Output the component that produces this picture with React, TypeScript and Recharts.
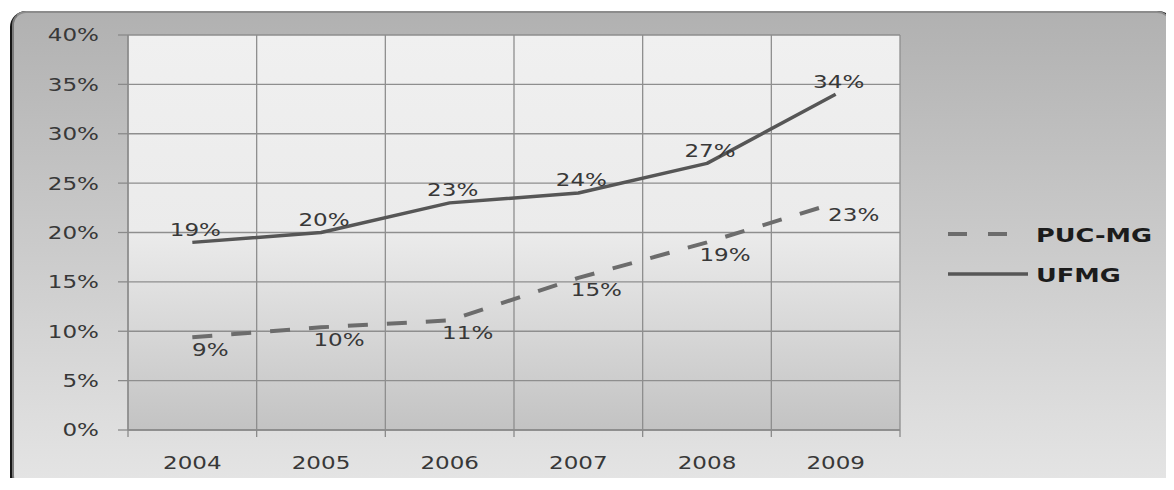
import React from 'react';
import { LineChart, Line, XAxis, YAxis, CartesianGrid, Legend, LabelList } from 'recharts';

// Share of students per year, by university (%)
const years = ['2004', '2005', '2006', '2007', '2008', '2009'];
const pucMgValues = [9.4, 10.4, 11.1, 15.4, 19.0, 23.0];
const ufmgValues = [19, 20, 23, 24, 27, 34];
const yTicks = [0, 5, 10, 15, 20, 25, 30, 35, 40];

// Each year sits in the middle of its band; band edges carry grid lines and tick marks.
const data = years.map((year, i) => ({ pos: i + 0.5, year, puc: pucMgValues[i], ufmg: ufmgValues[i] }));
const xTicks = Array.from({ length: years.length * 2 + 1 }, (_, i) => i / 2);
const bandEdges = Array.from({ length: years.length + 1 }, (_, i) => i);

const FONT = '"DejaVu Sans", Verdana, sans-serif';
const STRETCH = 1.28;
const TEXT = '#383838';
const AXIS = '#8a8a8a';

const series = [
  { key: 'puc', name: 'PUC-MG', color: '#6c6c6c', width: 4, dash: '20 19', legendDash: '19 21', labelDx: 18, labelDy: 12 },
  { key: 'ufmg', name: 'UFMG', color: '#565656', width: 3.5, dash: undefined, legendDash: undefined, labelDx: 3, labelDy: -13 },
];

const pct = (v: number) => `${Math.round(v)}%`;

const YTick = (props: any) => {
  const { x, y, payload } = props;
  return (
    <g>
      <line x1={x - 10} x2={x} y1={y} y2={y} stroke={AXIS} strokeWidth={1.3} />
      <text
        transform={`translate(${x - 29},${y}) scale(${STRETCH},1)`}
        textAnchor="end"
        dy="0.36em"
        fontFamily={FONT}
        fontSize={18}
        fill={TEXT}
      >
        {payload.value}%
      </text>
    </g>
  );
};

const XTick = (props: any) => {
  const { x, y, payload } = props;
  const v = payload.value as number;
  if (Number.isInteger(v)) {
    return <line x1={x} x2={x} y1={y} y2={y + 7} stroke={AXIS} strokeWidth={1.3} />;
  }
  return (
    <text
      transform={`translate(${x},${y + 39}) scale(${STRETCH},1)`}
      textAnchor="middle"
      fontFamily={FONT}
      fontSize={18}
      fill={TEXT}
    >
      {years[Math.floor(v)]}
    </text>
  );
};

const makeValueLabel = (dx: number, dy: number) => (props: any) => {
  const { x, y, value } = props;
  if (x == null || y == null || value == null) return null;
  return (
    <text
      transform={`translate(${x + dx},${y + dy}) scale(${STRETCH},1)`}
      textAnchor="middle"
      dy="0.36em"
      fontFamily={FONT}
      fontSize={18}
      fill={TEXT}
    >
      {pct(Number(value))}
    </text>
  );
};

const renderLegend = () => (
  <svg width={230} height={90} style={{ display: 'block' }}>
    {series.map((s, i) => {
      const cy = 26 + i * 40;
      return (
        <g key={s.key}>
          <line
            x1={4}
            x2={s.dash ? 66 : 84}
            y1={cy}
            y2={cy}
            stroke={s.color}
            strokeWidth={s.width}
            strokeDasharray={s.legendDash}
          />
          <text
            transform={`translate(92,${cy + 7.5}) scale(${STRETCH},1)`}
            fontFamily={FONT}
            fontWeight="bold"
            fontSize={20}
            fill="#1c1c1c"
          >
            {s.name}
          </text>
        </g>
      );
    })}
  </svg>
);

const bandGrid = ({ xAxis, offset }: any) =>
  bandEdges.map((b) =>
    xAxis && typeof xAxis.scale === 'function'
      ? xAxis.scale(b)
      : offset.left + (b * offset.width) / years.length
  );

export default function App() {
  return (
    <div style={{ position: 'relative', width: 1166, height: 470 }}>
      <style>{`html,body{overflow:hidden}`}</style>
      <div
        style={{
          position: 'absolute',
          left: 2,
          top: 3,
          width: 1164,
          height: 478,
          background: '#151515',
          borderRadius: '16px 16px 0 12px',
        }}
      />
      <div
        style={{
          position: 'absolute',
          left: 4,
          top: 3,
          width: 1159,
          height: 478,
          boxSizing: 'border-box',
          borderTop: '2px solid #8c8c8c',
          borderLeft: '2px solid #7a7a7a',
          borderRight: '1px solid #a4a4a4',
          borderRadius: 14,
          background: 'linear-gradient(180deg, #b1b1b1 0%, #c6c6c6 40%, #e5e5e5 100%)',
        }}
      />
      <div style={{ position: 'absolute', left: 0, top: 0 }}>
        <LineChart width={1166} height={482} data={data} margin={{ top: 27, right: 274, bottom: 0, left: 0 }}>
          <defs>
            <linearGradient id="plotFill" x1="0" y1="0" x2="0" y2="1">
              <stop offset="0%" stopColor="#f0f0f0" />
              <stop offset="50%" stopColor="#ebebeb" />
              <stop offset="100%" stopColor="#c3c3c3" />
            </linearGradient>
          </defs>
          <CartesianGrid
            stroke="#8e8e8e"
            strokeWidth={1.3}
            fill="url(#plotFill)"
            fillOpacity={1}
            verticalCoordinatesGenerator={bandGrid}
          />
          <XAxis
            dataKey="pos"
            type="number"
            domain={[0, years.length]}
            ticks={xTicks}
            interval={0}
            height={60}
            tickSize={0}
            tickMargin={0}
            tickLine={false}
            axisLine={{ stroke: AXIS, strokeWidth: 1.3 }}
            tick={<XTick />}
          />
          <YAxis
            type="number"
            domain={[0, 40]}
            ticks={yTicks}
            interval={0}
            width={120}
            tickSize={0}
            tickMargin={0}
            tickLine={false}
            axisLine={{ stroke: AXIS, strokeWidth: 1.3 }}
            tick={<YTick />}
          />
          <Legend
            layout="horizontal"
            align="center"
            verticalAlign="middle"
            wrapperStyle={{ left: 936, top: 200, width: 230, height: 90 }}
            content={renderLegend}
          />
          {series.map((s) => (
            <Line
              key={s.key}
              type="linear"
              dataKey={s.key}
              name={s.name}
              stroke={s.color}
              strokeWidth={s.width}
              strokeDasharray={s.dash}
              strokeLinejoin="round"
              dot={false}
              activeDot={false}
              isAnimationActive={false}
            >
              <LabelList dataKey={s.key} content={makeValueLabel(s.labelDx, s.labelDy)} />
            </Line>
          ))}
        </LineChart>
      </div>
    </div>
  );
}
